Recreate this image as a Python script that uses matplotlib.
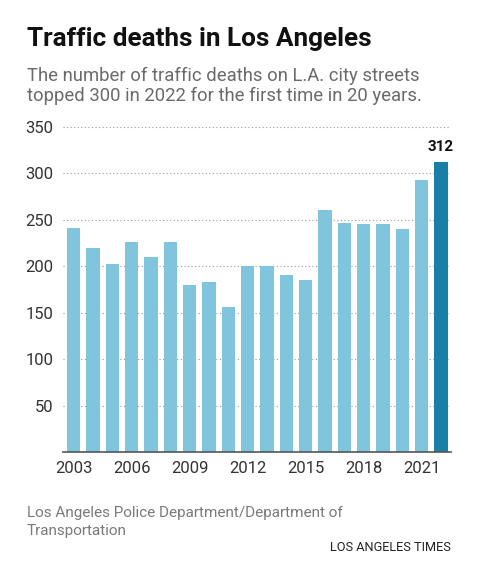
import matplotlib
matplotlib.use("Agg")
import matplotlib.pyplot as plt

# traffic deaths on L.A. city streets, 2003-2022
years = list(range(2003, 2023))
deaths = [241, 220, 202, 226, 210, 226, 180, 183, 156, 200,
          200, 191, 185, 260, 246, 245, 245, 240, 293, 312]
year_labels = [2003, 2006, 2009, 2012, 2015, 2018, 2021]
y_ticks = [50, 100, 150, 200, 250, 300, 350]

plt.rcParams['font.family'] = ['Roboto', 'DejaVu Sans']

fig = plt.figure(figsize=(4.91, 5.66), dpi=100)
ax = fig.add_axes([0.1283, 0.2009, 0.7902, 0.5836])

colors = ['#80c4dd'] * (len(years) - 1) + ['#1a7fa7']
ax.bar(years, deaths, width=0.69, color=colors, zorder=2)

ax.set_xlim(years[0] - 0.55, years[-1] + 0.52)
ax.set_ylim(0, 355)
ax.set_yticks(y_ticks)
ax.set_xticks(year_labels)
ax.set_xticklabels([str(y) for y in year_labels])
ax.tick_params(axis='both', length=0, labelsize=12, colors='#333333')
ax.tick_params(axis='y', pad=7)
ax.tick_params(axis='x', pad=6)
ax.yaxis.grid(True, linestyle=(0, (1, 2.2)), color='#9a9a9a', linewidth=0.8, zorder=0)
ax.set_axisbelow(True)
for s in ['top', 'right', 'left']:
    ax.spines[s].set_visible(False)
ax.spines['bottom'].set_color('#555555')
ax.spines['bottom'].set_linewidth(1.2)
ax.spines['bottom'].set_zorder(3)

ax.text(years[-1], deaths[-1] + 9, str(deaths[-1]), ha='center', va='bottom',
        fontsize=11, fontweight='bold', color='#111111')

fig.text(0.055, 0.918, 'Traffic deaths in Los Angeles', fontsize=18.8,
         fontweight='bold', color='#111111', va='baseline')
fig.text(0.055, 0.857, 'The number of traffic deaths on L.A. city streets',
         fontsize=13.3, color='#6a6a6a', va='baseline')
fig.text(0.055, 0.821, 'topped 300 in 2022 for the first time in 20 years.',
         fontsize=13.3, color='#6a6a6a', va='baseline')
fig.text(0.055, 0.087, 'Los Angeles Police Department/Department of',
         fontsize=11, color='#7a7a7a', va='baseline')
fig.text(0.055, 0.055, 'Transportation',
         fontsize=11, color='#7a7a7a', va='baseline')
fig.text(0.918, 0.027, 'LOS ANGELES TIMES', fontsize=9.2, color='#222222',
         ha='right', va='baseline')

fig.savefig('out.png', dpi=100, facecolor='white')
